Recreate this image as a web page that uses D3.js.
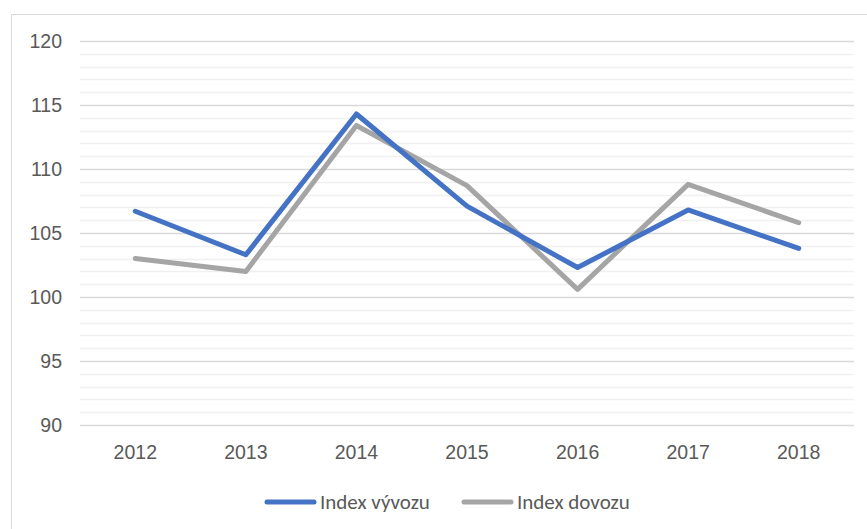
<!DOCTYPE html>
<html lang="sk">
<head>
  <meta charset="UTF-8">
  <title>Index vývozu a dovozu</title>
  <script src="https://d3js.org/d3.v7.min.js"></script>
  <style>
    body { margin: 0; background: #fff; }
    svg { display: block; font-family: Calibri, Carlito, "Liberation Sans", Arial, sans-serif; }
    .tick text { fill: #595959; font-size: 19.5px; }
  </style>
</head>
<body>
  <div id="chart"></div>
  <script>
    const years = ["2012", "2013", "2014", "2015", "2016", "2017", "2018"];
    const exportIndex = [106.7, 103.3, 114.3, 107.1, 102.3, 106.8, 103.8];
    const importIndex = [103.0, 102.0, 113.4, 108.7, 100.6, 108.8, 105.8];
    const yTicks = [90, 95, 100, 105, 110, 115, 120];
    const seriesNames = ["Index vývozu", "Index dovozu"];

    const w = 867, h = 529;
    const plotLeft = 80, plotRight = 854, plotTop = 41, plotBottom = 425;

    const svg = d3.select("#chart").append("svg")
      .attr("width", w).attr("height", h);

    // chart frame
    svg.append("rect")
      .attr("x", 11.5).attr("y", 14.5)
      .attr("width", w).attr("height", h)
      .attr("fill", "#fff").attr("stroke", "#d9d9d9");

    const x = d3.scaleBand().domain(years).range([plotLeft, plotRight]);
    const y = d3.scaleLinear().domain([90, 120]).range([plotBottom, plotTop]);

    // minor gridlines
    svg.append("g").selectAll("line")
      .data(d3.range(90, 121, 1).filter(v => v % 5 !== 0))
      .enter().append("line")
      .attr("x1", plotLeft).attr("x2", plotRight)
      .attr("y1", d => Math.round(y(d)) + 0.5).attr("y2", d => Math.round(y(d)) + 0.5)
      .attr("stroke", "#f0f0f0").attr("stroke-width", 1.5);

    // major gridlines
    svg.append("g").selectAll("line")
      .data(yTicks)
      .enter().append("line")
      .attr("x1", plotLeft).attr("x2", plotRight)
      .attr("y1", d => Math.round(y(d)) + 0.5).attr("y2", d => Math.round(y(d)) + 0.5)
      .attr("stroke", "#d9d9d9").attr("stroke-width", 1.5);

    const yAxis = svg.append("g")
      .attr("transform", `translate(${plotLeft}, 0)`)
      .call(d3.axisLeft(y).tickValues(yTicks).tickSize(0).tickPadding(18));
    yAxis.select(".domain").remove();

    const xAxis = svg.append("g")
      .attr("transform", `translate(0, ${plotBottom})`)
      .call(d3.axisBottom(x).tickSize(0).tickPadding(20));
    xAxis.select(".domain").remove();

    const line = d3.line()
      .x((d, i) => x(years[i]) + x.bandwidth() / 2)
      .y(d => y(d));

    const series = [
      { name: seriesNames[0], values: exportIndex, color: "#4472c4" },
      { name: seriesNames[1], values: importIndex, color: "#a5a5a5" }
    ];

    // gray drawn first, blue on top
    series.slice().reverse().forEach(s => {
      svg.append("path")
        .datum(s.values)
        .attr("d", line)
        .attr("fill", "none")
        .attr("stroke", s.color)
        .attr("stroke-width", 5)
        .attr("stroke-linejoin", "round")
        .attr("stroke-linecap", "round");
    });

    // legend
    const legendX = [265, 462];
    const legend = svg.append("g");
    series.forEach((s, i) => {
      legend.append("line")
        .attr("x1", legendX[i] + 2).attr("x2", legendX[i] + 49)
        .attr("y1", 502).attr("y2", 502)
        .attr("stroke", s.color).attr("stroke-width", 5)
        .attr("stroke-linecap", "round");
      legend.append("text")
        .attr("x", legendX[i] + 55).attr("y", 509)
        .attr("fill", "#595959").attr("font-size", 21)
        .text(s.name);
    });
  </script>
</body>
</html>
